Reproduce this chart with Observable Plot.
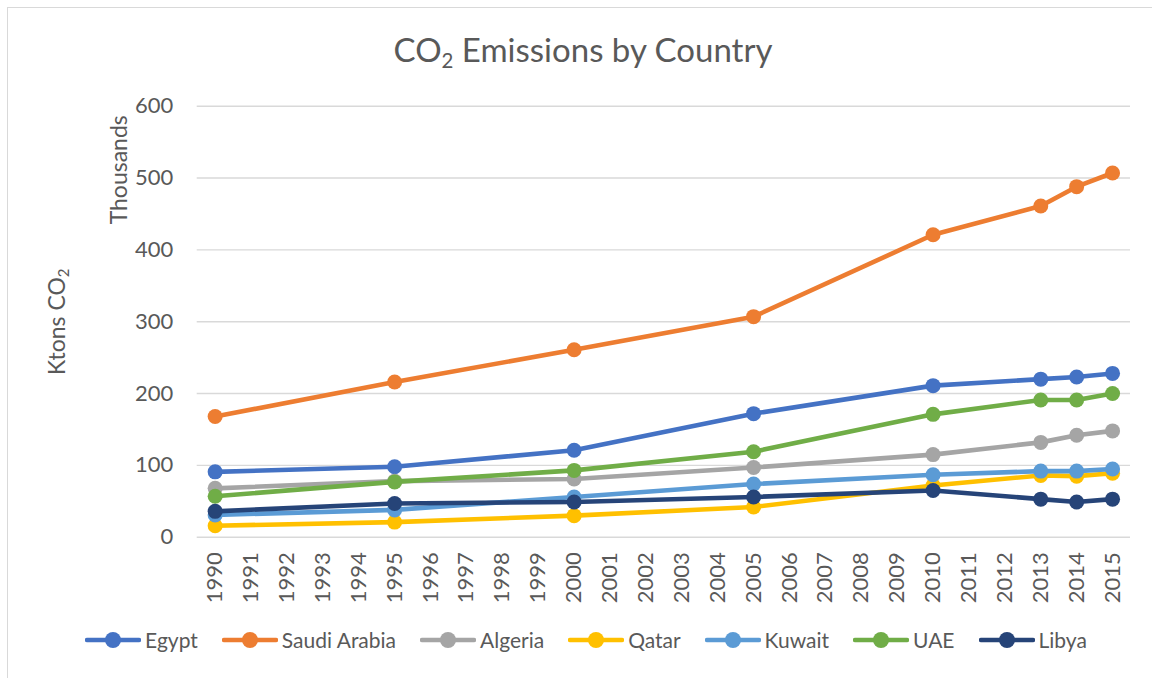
<!DOCTYPE html>
<html>
<head>
<meta charset="utf-8">
<script src="https://cdn.jsdelivr.net/npm/d3@7"></script>
<script src="https://cdn.jsdelivr.net/npm/@observablehq/plot@0.6"></script>
<style>
  body { margin: 0; background: #fff; font-family: Lato, "Open Sans", sans-serif; color: #595959; }
  #chart { position: relative; width: 1152px; height: 678px; overflow: hidden; background: #fff; }
  #frame { position: absolute; left: 7px; top: 7px; width: 1170px; height: 700px; border: 1.3px solid #d9d9d9; box-sizing: border-box; }
  #title { position: absolute; left: 7px; width: 1152px; top: 33px; text-align: center; font-size: 33px; line-height: 1; white-space: nowrap; }
  #title sub { font-size: 0.62em; vertical-align: -0.3em; line-height: 0; }
  #plot { position: absolute; left: 0; top: 80px; }
  #legend { position: absolute; left: 7px; width: 1158px; top: 626px; display: flex; justify-content: center; gap: 24px; font-size: 21px; line-height: 28px; }
  #legend .item { display: flex; align-items: center; gap: 4px; }
  #legend svg { display: block; }
</style>
</head>
<body>
<div id="chart">
  <div id="frame"></div>
  <div id="title">CO<sub>2</sub> Emissions by Country</div>
  <div id="plot"></div>
  <div id="legend"></div>
</div>
<script>
// Category axis: every year 1990–2015 is labelled, data exist for a subset
const years = d3.range(1990, 2016);
const sampleYears = [1990, 1995, 2000, 2005, 2010, 2013, 2014, 2015];
const yTicks = [0, 100, 200, 300, 400, 500, 600];

const countries = ["Egypt", "Saudi Arabia", "Algeria", "Qatar", "Kuwait", "UAE", "Libya"];
const colors = ["#4472C4", "#ED7D31", "#A5A5A5", "#FFC000", "#5B9BD5", "#70AD47", "#264478"];

// Emissions in thousands of ktons CO2, one value per sample year
const egypt   = [91, 98, 121, 172, 211, 220, 223, 228];
const saudi   = [168, 216, 261, 307, 421, 461, 488, 507];
const algeria = [68, 78, 81, 97, 115, 132, 142, 148];
const qatar   = [16, 21, 30, 42, 72, 86, 85, 89];
const kuwait  = [31, 38, 56, 74, 87, 92, 92, 95];
const uae     = [57, 77, 93, 119, 171, 191, 191, 200];
const libya   = [36, 47, 49, 56, 65, 53, 49, 53];

const series = [egypt, saudi, algeria, qatar, kuwait, uae, libya];

const rows = countries.flatMap((country, i) =>
  sampleYears.map((year, j) => ({country, year, value: series[i][j]}))
);

// Each series draws its line then its markers, later series on top
const seriesMarks = countries.flatMap((country, i) => {
  const d = rows.filter(r => r.country === country);
  return [
    Plot.line(d, {x: "year", y: "value", stroke: colors[i], strokeWidth: 4.6, strokeLinecap: "round", strokeLinejoin: "round"}),
    Plot.dot(d, {x: "year", y: "value", fill: colors[i], stroke: "none", r: 7.5})
  ];
});

const svg = Plot.plot({
  width: 1152,
  height: 530,
  marginTop: 25.7,
  marginBottom: 73.3,
  marginLeft: 196.7,
  marginRight: 22,
  style: {fontFamily: "Lato, 'Open Sans', sans-serif", fontSize: "22px", color: "#595959", background: "transparent", overflow: "visible"},
  x: {type: "point", domain: years, padding: 0.5, round: false},
  y: {domain: [0, 600]},
  marks: [
    Plot.ruleY(yTicks, {stroke: "#d9d9d9", strokeWidth: 1.4}),
    Plot.axisY({ticks: yTicks, tickSize: 0, tickPadding: 24, label: null, fill: "#595959"}),
    Plot.axisX({ticks: years, tickFormat: d => String(d), tickSize: 0, tickPadding: 15, tickRotate: -90, label: null, fill: "#595959"}),
    ...seriesMarks,
    Plot.text(["Ktons CO2"], {text: d => d, frameAnchor: "left", dx: -140, rotate: -90, textAnchor: "middle", fill: "#595959", fontSize: 23}),
    Plot.text(["Thousands"], {text: d => d, frameAnchor: "top-left", dx: -87, dy: 9, rotate: -90, textAnchor: "end", fill: "#595959", fontSize: 23})
  ]
});

// Subscript "2" in the axis title
d3.select(svg).selectAll("text")
  .filter(function () { return this.textContent === "Ktons CO2"; })
  .each(function () {
    const t = d3.select(this);
    t.text(null);
    t.append("tspan").text("Ktons CO");
    t.append("tspan").attr("font-size", "0.65em").attr("dy", "0.3em").text("2");
  });

document.getElementById("plot").appendChild(svg);

// Legend: line with a marker, followed by the country name
const legend = d3.select("#legend");
countries.forEach((country, i) => {
  const item = legend.append("div").attr("class", "item");
  const s = item.append("svg").attr("width", 56).attr("height", 20);
  s.append("line").attr("x1", 2).attr("x2", 54).attr("y1", 10).attr("y2", 10)
    .attr("stroke", colors[i]).attr("stroke-width", 4.6).attr("stroke-linecap", "round");
  s.append("circle").attr("cx", 28).attr("cy", 10).attr("r", 8).attr("fill", colors[i]);
  item.append("span").text(country);
});
</script>
</body>
</html>
